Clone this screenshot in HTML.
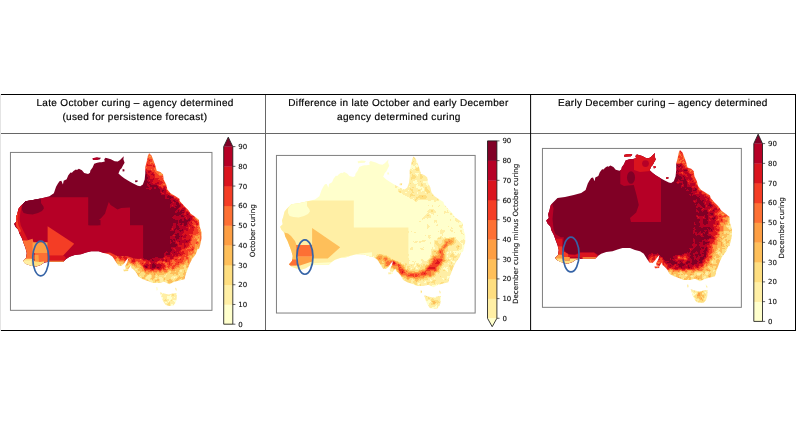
<!DOCTYPE html>
<html lang="en">
<head>
<meta charset="utf-8">
<title>Curing maps</title>
<style>
html,body{margin:0;padding:0;background:#fff;}
body{width:800px;height:425px;overflow:hidden;}
svg{display:block;}
.hd{font-family:"Liberation Sans",sans-serif;font-size:10px;fill:#000;stroke:#000;stroke-width:0.18px;text-rendering:geometricPrecision;}
.tk{font-family:"DejaVu Sans","Liberation Sans",sans-serif;font-size:7px;fill:#111;stroke:#111;stroke-width:0.12px;text-rendering:geometricPrecision;}
.al{font-family:"DejaVu Sans","Liberation Sans",sans-serif;font-size:7.1px;fill:#111;stroke:#111;stroke-width:0.12px;text-rendering:geometricPrecision;}
</style>
</head>
<body>
<svg width="800" height="425" viewBox="0 0 800 425">
<defs>
<path id="aus" d="M548.8,218.0 L548.1,214.2 L549.4,210.5 L550.6,205.5 L552.5,203.0 L557.5,198.0 L565.0,196.9 L573.8,195.0 L581.2,193.1 L585.6,190.0 L587.8,183.6 L589.5,180.5 L591.2,178.0 L593.0,177.6 L594.6,181.3 L595.3,177.6 L598.3,176.0 L599.8,172.3 L602.1,169.3 L603.5,169.5 L605.1,167.8 L607.4,166.3 L608.5,166.8 L610.4,165.5 L613.4,167.0 L615.7,169.7 L619.5,170.7 L621.4,169.6 L621.8,167.3 L624.0,164.3 L625.6,160.6 L628.6,159.4 L631.0,158.9 L633.0,158.9 L636.1,158.3 L635.5,156.0 L636.9,154.5 L642.1,156.0 L645.9,157.9 L648.9,158.3 L651.2,156.8 L653.4,154.5 L654.9,153.0 L654.5,156.0 L655.7,159.4 L654.2,162.1 L652.7,165.1 L651.2,166.6 L649.6,170.3 L652.7,173.0 L655.7,175.2 L660.2,177.9 L663.8,180.0 L668.8,182.5 L671.2,183.1 L673.8,181.2 L675.6,176.2 L676.2,170.0 L676.2,163.8 L677.5,158.8 L678.8,152.5 L680.0,150.0 L682.5,152.5 L684.4,157.5 L686.2,162.5 L687.5,167.5 L691.2,168.8 L693.8,171.2 L694.4,176.2 L696.9,181.2 L698.1,186.2 L701.2,190.0 L706.2,193.1 L710.0,195.6 L710.6,198.0 L715.0,203.0 L718.8,206.8 L721.2,210.5 L726.2,214.2 L729.4,216.8 L730.0,223.0 L731.9,229.2 L731.9,235.5 L730.6,241.8 L729.4,246.0 L728.1,246.2 L726.2,251.2 L722.5,256.2 L720.0,261.2 L718.1,266.2 L716.2,271.2 L715.0,276.2 L710.0,277.5 L705.0,278.8 L700.0,281.2 L695.0,278.8 L690.0,280.0 L683.8,280.0 L678.8,278.1 L673.8,276.2 L669.4,273.8 L667.5,270.0 L665.0,266.9 L662.5,265.0 L661.9,262.5 L659.5,266.0 L656.5,265.5 L656.2,263.1 L658.5,259.0 L659.4,255.0 L657.5,256.9 L655.0,260.6 L652.5,263.0 L649.4,262.5 L646.9,258.8 L643.8,253.8 L640.0,251.2 L635.0,250.0 L630.0,248.1 L622.5,248.1 L617.5,249.4 L612.5,251.2 L606.2,251.9 L601.2,253.8 L597.5,256.2 L595.0,258.8 L587.5,258.8 L581.2,258.8 L576.2,259.4 L572.5,261.9 L567.5,263.8 L562.5,262.5 L557.5,260.6 L555.0,258.1 L558.1,255.0 L558.8,250.0 L557.5,245.0 L555.6,240.0 L553.8,235.0 L551.2,230.0 L550.6,226.8 L547.5,223.6 L546.2,220.5Z M690.7,289.3 L695.0,290.5 L699.4,291.6 L703.5,290.5 L707.6,290.0 L707.3,296.1 L706.0,300.0 L703.9,302.5 L700.0,303.0 L696.4,302.1 L694.0,298.5 L692.6,295.3Z M687.0,284.6 L688.4,284.8 L688.6,287.0 L687.3,287.4Z M705.6,284.8 L706.8,285.0 L707.6,287.6 L706.4,287.6Z M624.0,154.9 L628.0,154.1 L632.3,154.5 L631.0,156.2 L627.0,156.6 L624.4,156.8Z M653.6,166.0 L655.4,166.0 L655.6,168.0 L653.8,168.2Z M666.0,177.3 L668.6,177.0 L668.4,178.8 L666.2,179.0Z M654.4,266.6 L659.4,266.2 L659.2,268.0 L655.0,268.2Z"/>
<clipPath id="clip1"><use href="#aus" transform="matrix(1.00919,0,0,0.99767,-537.127,3.644)"/></clipPath>
<clipPath id="clip2"><use href="#aus" transform="matrix(0.99685,0,0,0.99607,-264.368,7.065)"/></clipPath>
<clipPath id="clip3"><use href="#aus"/></clipPath>
<filter id="f1" filterUnits="userSpaceOnUse" x="8" y="150" width="206" height="163" color-interpolation-filters="sRGB">
<feGaussianBlur in="SourceGraphic" stdDeviation="1.6" result="g"/>
<feTurbulence type="fractalNoise" baseFrequency="0.25" numOctaves="3" seed="7" result="t"/>
<feColorMatrix in="t" type="matrix" values="1 0 0 0 0 1 0 0 0 0 1 0 0 0 0 0 0 0 0 1" result="n"/>
<feComposite in="g" in2="n" operator="arithmetic" k1="0" k2="1" k3="0.36" k4="-0.18" result="f"/>
<feComponentTransfer in="f" result="c">
<feFuncR type="discrete" tableValues="1.000 1.000 0.996 0.996 0.992 0.992 0.957 0.855 0.714 0.502 0.502 0.502 0.502"/>
<feFuncG type="discrete" tableValues="1.000 0.937 0.871 0.749 0.620 0.439 0.239 0.078 0.000 0.000 0.000 0.000 0.000"/>
<feFuncB type="discrete" tableValues="0.800 0.647 0.502 0.353 0.263 0.204 0.145 0.118 0.149 0.149 0.149 0.149 0.149"/>
</feComponentTransfer>
<feGaussianBlur in="c" stdDeviation="0.55"/>
</filter><filter id="f2" filterUnits="userSpaceOnUse" x="274" y="153" width="204" height="163" color-interpolation-filters="sRGB">
<feGaussianBlur in="SourceGraphic" stdDeviation="1.0" result="g"/>
<feTurbulence type="fractalNoise" baseFrequency="0.2" numOctaves="3" seed="11" result="t"/>
<feColorMatrix in="t" type="matrix" values="1 0 0 0 0 1 0 0 0 0 1 0 0 0 0 0 0 0 0 1" result="n"/>
<feComposite in="g" in2="n" operator="arithmetic" k1="0" k2="1" k3="0.32" k4="-0.16" result="f"/>
<feComponentTransfer in="f" result="c">
<feFuncR type="discrete" tableValues="1.000 1.000 1.000 1.000 0.996 0.996 0.992 0.992 0.957 0.855 0.714 0.502 0.502"/>
<feFuncG type="discrete" tableValues="1.000 1.000 1.000 0.937 0.871 0.749 0.620 0.439 0.239 0.078 0.000 0.000 0.000"/>
<feFuncB type="discrete" tableValues="0.800 0.800 0.800 0.647 0.502 0.353 0.263 0.204 0.145 0.118 0.149 0.149 0.149"/>
</feComponentTransfer>
<feGaussianBlur in="c" stdDeviation="0.7"/>
</filter><filter id="f3" filterUnits="userSpaceOnUse" x="540" y="146" width="204" height="164" color-interpolation-filters="sRGB">
<feGaussianBlur in="SourceGraphic" stdDeviation="1.6" result="g"/>
<feTurbulence type="fractalNoise" baseFrequency="0.25" numOctaves="3" seed="5" result="t"/>
<feColorMatrix in="t" type="matrix" values="1 0 0 0 0 1 0 0 0 0 1 0 0 0 0 0 0 0 0 1" result="n"/>
<feComposite in="g" in2="n" operator="arithmetic" k1="0" k2="1" k3="0.36" k4="-0.18" result="f"/>
<feComponentTransfer in="f" result="c">
<feFuncR type="discrete" tableValues="1.000 1.000 0.996 0.996 0.992 0.992 0.957 0.855 0.714 0.502 0.502 0.502 0.502"/>
<feFuncG type="discrete" tableValues="1.000 0.937 0.871 0.749 0.620 0.439 0.239 0.078 0.000 0.000 0.000 0.000 0.000"/>
<feFuncB type="discrete" tableValues="0.800 0.647 0.502 0.353 0.263 0.204 0.145 0.118 0.149 0.149 0.149 0.149 0.149"/>
</feComponentTransfer>
<feGaussianBlur in="c" stdDeviation="0.55"/>
</filter>
</defs>
<rect x="0" y="0" width="800" height="425" fill="#fff"/>
<!-- table grid -->
<rect x="0" y="94" width="1" height="237" fill="#e4e4e4"/>
<rect x="1" y="94" width="795" height="1" fill="#000"/>
<rect x="1" y="330" width="795" height="1" fill="#000"/>
<rect x="1" y="133" width="795" height="0.9" fill="#555"/>
<rect x="265" y="95" width="1" height="235" fill="#666"/>
<rect x="530.1" y="94" width="1" height="236" fill="#000"/>
<rect x="795" y="94" width="1" height="236.9" fill="#000"/>
<!-- headers -->
<text class="hd" x="36.4" y="106" textLength="197" lengthAdjust="spacing">Late October curing – agency determined</text>
<text class="hd" x="62.4" y="119.8" textLength="144.6" lengthAdjust="spacing">(used for persistence forecast)</text>
<text class="hd" x="288.3" y="106" textLength="220" lengthAdjust="spacing">Difference in late October and early December</text>
<text class="hd" x="337" y="119.8" textLength="123.4" lengthAdjust="spacing">agency determined curing</text>
<text class="hd" x="558" y="106" textLength="209.4" lengthAdjust="spacing">Early December curing – agency determined</text>
<!-- map 1 -->
<rect x="10.45" y="152.43" width="201.5" height="157.9" fill="none" stroke="#7f7f7f" stroke-width="1"/>
<g clip-path="url(#clip1)"><g filter="url(#f1)"><rect x="8" y="150" width="206" height="163" fill="#ffffff"/><path d="M144.0,168.0 L145.0,180.0 L143.0,186.0 L146.0,190.0 L155.9,192.0 L166.2,200.7 L171.4,213.7 L168.8,231.8 L168.8,244.7 L161.0,255.0 L150.0,257.5 L143.3,258.5 L143.3,290.0 L146.0,314.0 L216.0,314.0 L216.0,148.0 L143.0,148.0Z" fill="#b0b0b0" /><path d="M145.0,165.0 L148.0,178.0 L153.0,184.0 L160.0,188.0 L167.0,192.0 L176.0,199.0 L181.0,206.0 L187.5,213.0 L191.0,218.5 L186.0,224.0 L181.8,231.8 L179.2,244.7 L171.4,255.0 L161.0,259.5 L146.0,260.0 L143.3,260.0 L143.3,290.0 L146.0,314.0 L216.0,314.0 L216.0,148.0 L143.0,148.0Z" fill="#9b9b9b" /><path d="M146.0,158.0 L151.0,170.0 L158.0,179.0 L167.0,186.0 L171.0,191.0 L178.5,197.5 L183.0,204.5 L189.5,211.5 L193.5,216.5 L195.5,221.0 L192.1,234.4 L187.0,247.3 L179.2,257.7 L172.0,261.5 L146.0,262.0 L143.3,262.0 L143.3,290.0 L146.0,314.0 L216.0,314.0 L216.0,148.0 L143.0,148.0Z" fill="#767676" /><path d="M199.5,224.0 L198.0,234.0 L194.7,247.3 L189.5,257.7 L181.8,265.4 L172.0,269.0 L160.0,271.0 L146.0,270.6 L143.3,268.0 L143.3,290.0 L146.0,314.0 L216.0,314.0 L216.0,224.0Z" fill="#5a5a5a" /><path d="M196.5,248.0 L192.0,257.5 L184.0,266.0 L174.0,271.0 L160.0,273.0 L146.0,272.5 L143.3,270.0 L143.3,290.0 L216.0,290.0 L216.0,248.0Z" fill="#454545" /><path d="M150.0,274.0 L166.2,273.5 L178.0,269.5 L184.0,266.5 L186.5,268.0 L185.0,274.0 L181.0,279.0 L170.0,290.0 L140.0,290.0 L143.3,274.0Z" fill="#313131" /><circle cx="194.6" cy="245.0" r="0.7" fill="#5e5e5e"/><circle cx="196.8" cy="240.3" r="1.0" fill="#757575"/><circle cx="189.1" cy="257.0" r="0.7" fill="#717171"/><circle cx="195.7" cy="235.6" r="0.9" fill="#6e6e6e"/><circle cx="198.3" cy="231.7" r="1.0" fill="#606060"/><circle cx="193.1" cy="239.4" r="1.0" fill="#717171"/><circle cx="191.2" cy="246.0" r="0.8" fill="#7e7e7e"/><circle cx="192.4" cy="252.8" r="0.9" fill="#6c6c6c"/><circle cx="187.0" cy="259.0" r="1.0" fill="#888888"/><circle cx="188.7" cy="249.0" r="1.1" fill="#808080"/><circle cx="188.3" cy="253.8" r="0.7" fill="#7d7d7d"/><circle cx="195.7" cy="228.9" r="1.0" fill="#818181"/><circle cx="187.7" cy="256.9" r="0.6" fill="#6f6f6f"/><circle cx="192.4" cy="242.9" r="1.1" fill="#747474"/><circle cx="191.3" cy="242.9" r="0.6" fill="#616161"/><circle cx="194.5" cy="235.9" r="1.0" fill="#686868"/><circle cx="192.8" cy="249.9" r="1.0" fill="#636363"/><circle cx="191.1" cy="246.1" r="1.1" fill="#696969"/><circle cx="188.2" cy="247.5" r="0.9" fill="#898989"/><circle cx="197.7" cy="237.0" r="0.9" fill="#858585"/><circle cx="195.3" cy="239.4" r="1.0" fill="#656565"/><circle cx="197.3" cy="228.8" r="0.9" fill="#8f8f8f"/><circle cx="188.3" cy="259.4" r="0.7" fill="#7f7f7f"/><circle cx="195.1" cy="230.8" r="0.7" fill="#8a8a8a"/><circle cx="187.5" cy="252.2" r="1.0" fill="#979797"/><circle cx="196.6" cy="236.4" r="0.8" fill="#696969"/><circle cx="189.5" cy="254.2" r="0.9" fill="#919191"/><circle cx="195.7" cy="243.2" r="0.9" fill="#686868"/><circle cx="186.6" cy="252.1" r="1.0" fill="#838383"/><circle cx="187.1" cy="261.6" r="1.0" fill="#595959"/><circle cx="184.7" cy="260.5" r="0.8" fill="#8b8b8b"/><circle cx="187.6" cy="250.8" r="1.0" fill="#6d6d6d"/><circle cx="189.9" cy="249.4" r="1.0" fill="#6b6b6b"/><circle cx="193.8" cy="232.0" r="0.7" fill="#808080"/><circle cx="199.1" cy="232.0" r="0.9" fill="#888888"/><circle cx="196.6" cy="240.4" r="0.9" fill="#666666"/><path d="M100.0,246.0 L143.3,246.0 L143.3,292.0 L100.0,292.0Z" fill="#7e7e7e" /><path d="M108.0,257.0 L114.0,259.5 L120.0,261.0 L128.0,262.0 L133.0,263.0 L143.3,263.5 L143.3,292.0 L108.0,292.0Z" fill="#565656" /><path d="M116.0,261.5 L126.0,263.5 L134.0,266.5 L143.3,268.5 L143.3,292.0 L112.0,292.0Z" fill="#373737" /><path d="M154.2,285.0 L181.4,285.0 L181.4,308.9 L154.2,308.9Z" fill="#1b1b1b" /><path d="M143.0,148.0 L160.0,148.0 L160.0,170.0 L143.0,170.0Z" fill="#7a7a7a" /><path d="M153.2,160.3 L156.2,170.3 L162.2,174.2 L165.3,184.2 L168.3,192.2 L179.4,199.2 L188.5,210.2 L198.6,220.1" fill="none" stroke="#6c6c6c" stroke-width="2.6" stroke-linejoin="round" stroke-linecap="round" /><ellipse cx="153.5" cy="266.6" rx="10.5" ry="3.6" fill="#b1b1b1" /></g><path d="M8.0,197.2 L88.2,197.2 L88.2,225.3 L98.5,225.3 L97.5,221.2 L101.2,218.1 L105.0,213.8 L106.9,207.5 L108.8,201.9 L110.6,205.0 L113.8,206.9 L117.5,209.4 L121.2,208.1 L130.0,207.5 L130.0,225.3 L143.1,225.3 L143.1,258.8 L135.0,258.8 L127.5,256.2 L117.5,256.2 L110.0,252.5 L104.0,253.0 L100.0,256.0 L96.0,262.0 L8.0,290.0Z" fill="#b60026" /><path d="M91.6,156.3 L98.2,156.3 L98.2,160.9 L91.6,160.9Z" fill="#b60026" /><path d="M22.0,206.5 L23.0,203.5 L25.0,200.5 L29.0,198.5 L33.0,197.5 L38.0,197.0 L41.0,198.5 L41.0,203.0 L43.5,206.5 L43.9,208.5 L42.0,211.0 L38.0,213.0 L32.6,214.4 L27.5,214.0 L23.6,212.9 L22.0,210.0Z" fill="#800026" /><path d="M8.0,190.0 L42.0,190.0 L42.0,197.3 L39.5,197.3 L37.0,199.5 L31.0,201.0 L25.0,203.5 L8.0,203.5Z" fill="#800026" /><path d="M89.2,220.0 L100.5,220.0 L100.5,225.3 L89.2,225.3Z" fill="#800026" /><path d="M19.5,205.0 L18.2,212.0 L17.4,219.0 L18.6,226.0 L21.5,232.0 L24.5,238.0 L27.0,243.0" fill="none" stroke="#da141e" stroke-width="4.4" stroke-linejoin="round" stroke-linecap="round" /><path d="M17.2,213.0 L16.2,219.0 L17.4,226.0 L20.0,231.0" fill="none" stroke="#f43d25" stroke-width="2.2" stroke-linejoin="round" stroke-linecap="round" /><path d="M47.6,226.2 L74.2,243.8 L63.0,255.7 L47.6,255.7Z" fill="#f43d25" /><path d="M45.5,255.7 L64.0,255.7 L66.0,258.0 L64.0,260.8 L45.5,260.8Z" fill="#da141e" /><path d="M20.0,240.3 L27.0,240.6 L32.6,238.8 L33.4,242.2 L34.6,259.2 L20.0,259.2Z" fill="#fd7034" /><path d="M32.6,242.2 L47.6,242.2 L47.6,253.1 L32.6,253.1Z" fill="#fd9e43" /><path d="M34.6,253.1 L47.6,253.1 L47.6,261.9 L38.0,262.5 L35.0,259.0Z" fill="#fd7034" /><path d="M34.6,255.0 L38.5,255.0 L39.0,262.0 L34.6,262.0Z" fill="#fd9e43" /><path d="M20.0,258.8 L32.6,258.8 L35.0,261.5 L40.0,262.0 L44.0,261.5 L44.0,270.0 L20.0,270.0Z" fill="#fede80" /><path d="M22.0,260.5 L31.0,260.5 L33.0,270.0 L22.0,270.0Z" fill="#ffefa5" /><path d="M48.0,260.8 L66.0,260.8 L66.0,263.0 L48.0,263.0Z" fill="#fd9e43" /></g>
<rect x="223.7" y="304.47" width="9.10" height="20.03" fill="#ffffcc"/>
<rect x="223.7" y="284.73" width="9.10" height="20.03" fill="#ffefa5"/>
<rect x="223.7" y="265.00" width="9.10" height="20.03" fill="#fede80"/>
<rect x="223.7" y="245.27" width="9.10" height="20.03" fill="#febf5a"/>
<rect x="223.7" y="225.53" width="9.10" height="20.03" fill="#fd9e43"/>
<rect x="223.7" y="205.80" width="9.10" height="20.03" fill="#fd7034"/>
<rect x="223.7" y="186.07" width="9.10" height="20.03" fill="#f43d25"/>
<rect x="223.7" y="166.33" width="9.10" height="20.03" fill="#da141e"/>
<rect x="223.7" y="146.60" width="9.10" height="20.03" fill="#b60026"/>
<path d="M223.7,146.7 L228.25,137.2 L232.8,146.7Z" fill="#800026"/>
<path d="M223.7,324.2 L223.7,146.6 L228.25,137.2 L232.8,146.6 L232.8,324.2Z" fill="none" stroke="#1a1a1a" stroke-width="0.85"/>
<line x1="232.8" y1="324.20" x2="235.4" y2="324.20" stroke="#222" stroke-width="0.7"/>
<text x="238.3" y="326.75" class="tk">0</text>
<line x1="232.8" y1="304.47" x2="235.4" y2="304.47" stroke="#222" stroke-width="0.7"/>
<text x="238.3" y="307.02" class="tk">10</text>
<line x1="232.8" y1="284.73" x2="235.4" y2="284.73" stroke="#222" stroke-width="0.7"/>
<text x="238.3" y="287.28" class="tk">20</text>
<line x1="232.8" y1="265.00" x2="235.4" y2="265.00" stroke="#222" stroke-width="0.7"/>
<text x="238.3" y="267.55" class="tk">30</text>
<line x1="232.8" y1="245.27" x2="235.4" y2="245.27" stroke="#222" stroke-width="0.7"/>
<text x="238.3" y="247.82" class="tk">40</text>
<line x1="232.8" y1="225.53" x2="235.4" y2="225.53" stroke="#222" stroke-width="0.7"/>
<text x="238.3" y="228.08" class="tk">50</text>
<line x1="232.8" y1="205.80" x2="235.4" y2="205.80" stroke="#222" stroke-width="0.7"/>
<text x="238.3" y="208.35" class="tk">60</text>
<line x1="232.8" y1="186.07" x2="235.4" y2="186.07" stroke="#222" stroke-width="0.7"/>
<text x="238.3" y="188.62" class="tk">70</text>
<line x1="232.8" y1="166.33" x2="235.4" y2="166.33" stroke="#222" stroke-width="0.7"/>
<text x="238.3" y="168.88" class="tk">80</text>
<line x1="232.8" y1="146.60" x2="235.4" y2="146.60" stroke="#222" stroke-width="0.7"/>
<text x="238.3" y="149.15" class="tk">90</text>
<text class="al" transform="translate(254.5,230.7) rotate(-90)" text-anchor="middle">October curing</text>
<!-- map 2 -->
<rect x="276.45" y="155.43" width="198.7" height="157.6" fill="none" stroke="#7f7f7f" stroke-width="1"/>
<g clip-path="url(#clip2)"><g filter="url(#f2)"><rect x="274" y="153" width="204" height="163" fill="#000000"/><path d="M406.9,228.0 L406.9,305.9 L479.3,305.9 L479.3,196.3 L433.4,196.3 L423.5,206.3 L413.5,228.0Z" fill="#2d2d2d" /><ellipse cx="429.0" cy="212.0" rx="5" ry="3.2" fill="#454545" /><path d="M452.0,214.0 L461.0,224.0 L465.0,236.0 L464.0,250.0 L458.0,262.0" fill="none" stroke="#373737" stroke-width="7" stroke-linejoin="round" stroke-linecap="round" /><path d="M400.0,268.0 L410.0,277.0 L432.0,277.0 L442.0,268.0 L447.0,250.0 L460.0,240.0 L460.0,290.0 L400.0,290.0Z" fill="#454545" /><path d="M360.0,250.0 L408.4,250.0 L408.4,285.0 L360.0,285.0Z" fill="#454545" /><path d="M394.0,186.0 L397.0,192.0 L405.0,197.0 L412.0,201.0 L420.0,203.5 L428.0,203.0 L436.0,201.0 L445.0,196.0 L445.0,150.0 L394.0,150.0Z" fill="#454545" /><path d="M394.7,260.8 L400.8,267.9 L405.8,271.4 L412.9,271.9 L420.0,271.4 L427.1,269.9 L433.1,265.9 L437.2,260.8 L439.2,254.7 L440.2,248.7 L442.2,243.6" fill="none" stroke="#4c4c4c" stroke-width="15" stroke-linejoin="round" stroke-linecap="round" /><path d="M379.0,259.0 L387.0,262.0 L396.2,264.3 L402.3,271.4 L407.3,274.9 L414.4,275.4 L421.5,274.9 L428.6,273.4 L434.6,269.4 L438.7,264.3 L440.7,258.2 L441.7,252.2 L443.7,247.1 L447.8,243.1 L451.3,241.1" fill="none" stroke="#727272" stroke-width="8.5" stroke-linejoin="round" stroke-linecap="round" /><path d="M387.0,262.0 L396.2,264.3 L402.3,271.4 L407.3,274.9 L414.4,275.4 L421.5,274.9 L428.6,273.4 L434.6,269.4 L438.7,264.3 L440.7,258.2" fill="none" stroke="#999999" stroke-width="4.2" stroke-linejoin="round" stroke-linecap="round" /><path d="M440.7,258.2 L441.7,252.2 L443.7,247.1 L447.8,243.1 L451.3,241.1" fill="none" stroke="#818181" stroke-width="4" stroke-linejoin="round" stroke-linecap="round" /><path d="M428.6,273.4 L434.6,269.4 L438.7,264.3 L440.7,258.2" fill="none" stroke="#a9a9a9" stroke-width="6" stroke-linejoin="round" stroke-linecap="round" /><path d="M402.3,271.4 L407.3,274.9 L414.4,275.4 L421.5,274.9 L428.6,273.4" fill="none" stroke="#a9a9a9" stroke-width="2.6" stroke-linejoin="round" stroke-linecap="round" /><circle cx="404.9" cy="267.7" r="1.0" fill="#4f4f4f"/><circle cx="382.6" cy="256.6" r="1.5" fill="#5e5e5e"/><circle cx="385.1" cy="261.1" r="1.1" fill="#cccccc"/><circle cx="426.6" cy="275.7" r="0.9" fill="#949494"/><circle cx="423.8" cy="276.2" r="0.7" fill="#9c9c9c"/><circle cx="413.1" cy="271.4" r="1.2" fill="#5d5d5d"/><circle cx="382.9" cy="263.6" r="1.4" fill="#6e6e6e"/><circle cx="440.9" cy="263.1" r="1.2" fill="#959595"/><circle cx="417.5" cy="273.3" r="1.4" fill="#a6a6a6"/><circle cx="433.5" cy="269.2" r="1.0" fill="#cfcfcf"/><circle cx="435.1" cy="263.1" r="1.4" fill="#646464"/><circle cx="392.3" cy="262.3" r="0.7" fill="#b5b5b5"/><circle cx="404.9" cy="271.9" r="1.2" fill="#818181"/><circle cx="436.7" cy="266.6" r="0.8" fill="#989898"/><circle cx="425.9" cy="267.9" r="1.1" fill="#373737"/><circle cx="381.7" cy="259.5" r="1.0" fill="#c6c6c6"/><circle cx="410.1" cy="279.9" r="1.0" fill="#707070"/><circle cx="396.1" cy="263.4" r="0.9" fill="#b7b7b7"/><circle cx="395.7" cy="271.9" r="1.0" fill="#4e4e4e"/><circle cx="405.2" cy="275.4" r="0.7" fill="#bebebe"/><circle cx="429.9" cy="268.9" r="1.3" fill="#959595"/><circle cx="399.3" cy="268.7" r="0.9" fill="#b7b7b7"/><circle cx="431.9" cy="278.9" r="0.9" fill="#2f2f2f"/><circle cx="425.8" cy="267.8" r="1.2" fill="#303030"/><circle cx="389.9" cy="257.4" r="1.5" fill="#4e4e4e"/><circle cx="432.4" cy="275.1" r="0.9" fill="#696969"/><circle cx="386.0" cy="265.6" r="0.8" fill="#6c6c6c"/><circle cx="420.7" cy="272.6" r="0.8" fill="#a3a3a3"/><circle cx="428.0" cy="271.1" r="1.0" fill="#919191"/><circle cx="384.3" cy="261.6" r="0.8" fill="#a1a1a1"/><circle cx="387.3" cy="261.8" r="0.7" fill="#ababab"/><circle cx="409.9" cy="275.7" r="0.7" fill="#aaaaaa"/><circle cx="435.0" cy="266.9" r="1.1" fill="#999999"/><circle cx="406.0" cy="273.5" r="1.3" fill="#9e9e9e"/><circle cx="408.8" cy="279.1" r="1.3" fill="#5e5e5e"/><circle cx="437.2" cy="267.8" r="0.7" fill="#a4a4a4"/><circle cx="418.9" cy="271.8" r="1.0" fill="#8a8a8a"/><circle cx="393.6" cy="262.7" r="1.3" fill="#cbcbcb"/><circle cx="404.3" cy="276.0" r="0.9" fill="#626262"/><circle cx="437.3" cy="261.8" r="0.9" fill="#7d7d7d"/><circle cx="437.5" cy="259.1" r="0.9" fill="#646464"/><circle cx="395.1" cy="263.6" r="1.1" fill="#989898"/><circle cx="394.5" cy="266.9" r="1.4" fill="#9b9b9b"/><circle cx="415.6" cy="272.0" r="1.4" fill="#8a8a8a"/><circle cx="407.9" cy="273.0" r="1.2" fill="#808080"/><circle cx="414.7" cy="270.7" r="0.8" fill="#616161"/><circle cx="412.2" cy="276.3" r="1.4" fill="#c5c5c5"/><circle cx="395.2" cy="265.9" r="1.3" fill="#b0b0b0"/><circle cx="404.6" cy="270.0" r="0.7" fill="#818181"/><circle cx="389.8" cy="262.4" r="1.1" fill="#b0b0b0"/><circle cx="390.6" cy="263.3" r="1.3" fill="#a5a5a5"/><circle cx="408.2" cy="276.6" r="0.7" fill="#b9b9b9"/><circle cx="401.5" cy="267.0" r="0.8" fill="#b5b5b5"/><circle cx="444.0" cy="263.0" r="1.1" fill="#464646"/><circle cx="398.2" cy="266.1" r="1.0" fill="#9d9d9d"/><circle cx="394.6" cy="268.0" r="1.3" fill="#858585"/><circle cx="432.9" cy="273.4" r="1.4" fill="#a3a3a3"/><circle cx="416.9" cy="274.0" r="0.9" fill="#aeaeae"/><circle cx="381.7" cy="266.4" r="1.0" fill="#5d5d5d"/><circle cx="427.7" cy="272.7" r="1.0" fill="#b1b1b1"/><circle cx="408.3" cy="275.4" r="0.9" fill="#aaaaaa"/><circle cx="421.7" cy="273.6" r="1.4" fill="#b7b7b7"/><circle cx="392.8" cy="265.4" r="1.2" fill="#7b7b7b"/><circle cx="401.4" cy="265.9" r="0.9" fill="#8a8a8a"/><circle cx="395.5" cy="265.8" r="1.1" fill="#c0c0c0"/><circle cx="378.5" cy="261.7" r="1.2" fill="#9a9a9a"/><circle cx="416.9" cy="272.1" r="1.3" fill="#787878"/><circle cx="386.3" cy="261.1" r="0.9" fill="#a4a4a4"/><circle cx="438.4" cy="263.4" r="0.9" fill="#c6c6c6"/><circle cx="425.9" cy="276.4" r="1.1" fill="#757575"/><circle cx="414.7" cy="272.9" r="1.0" fill="#939393"/><circle cx="414.9" cy="276.9" r="1.3" fill="#828282"/><circle cx="409.7" cy="275.8" r="0.7" fill="#949494"/><circle cx="436.9" cy="261.6" r="0.9" fill="#aeaeae"/><circle cx="437.5" cy="263.0" r="1.0" fill="#797979"/><circle cx="438.9" cy="266.3" r="1.4" fill="#969696"/><circle cx="393.4" cy="265.3" r="1.0" fill="#9a9a9a"/><circle cx="432.5" cy="265.9" r="1.5" fill="#727272"/><circle cx="425.2" cy="274.5" r="0.8" fill="#cbcbcb"/><circle cx="429.2" cy="270.7" r="0.7" fill="#8c8c8c"/><circle cx="421.3" cy="273.6" r="1.1" fill="#838383"/><circle cx="432.4" cy="273.3" r="0.8" fill="#797979"/><circle cx="435.1" cy="268.3" r="1.3" fill="#a9a9a9"/><circle cx="392.0" cy="258.1" r="1.4" fill="#363636"/><circle cx="399.3" cy="273.2" r="0.7" fill="#909090"/><circle cx="425.1" cy="279.3" r="1.3" fill="#636363"/><circle cx="434.3" cy="269.8" r="0.9" fill="#bababa"/><circle cx="383.2" cy="261.9" r="1.2" fill="#848484"/><circle cx="398.0" cy="268.7" r="0.9" fill="#929292"/><circle cx="381.3" cy="262.8" r="1.1" fill="#777777"/><circle cx="428.7" cy="267.5" r="0.9" fill="#535353"/><circle cx="390.7" cy="263.9" r="0.7" fill="#a4a4a4"/><circle cx="398.0" cy="264.0" r="0.9" fill="#b0b0b0"/><circle cx="389.9" cy="265.1" r="1.3" fill="#8e8e8e"/><circle cx="408.7" cy="273.7" r="0.8" fill="#bababa"/><circle cx="434.4" cy="261.7" r="1.2" fill="#666666"/><circle cx="412.2" cy="274.5" r="0.7" fill="#9d9d9d"/><circle cx="427.8" cy="272.7" r="1.4" fill="#9c9c9c"/><circle cx="431.8" cy="271.2" r="1.3" fill="#b4b4b4"/><circle cx="402.7" cy="276.3" r="1.0" fill="#6d6d6d"/><circle cx="400.5" cy="268.2" r="0.7" fill="#b7b7b7"/><circle cx="399.7" cy="264.3" r="1.5" fill="#a0a0a0"/><circle cx="381.7" cy="261.8" r="0.7" fill="#b9b9b9"/><circle cx="401.3" cy="274.8" r="0.8" fill="#696969"/><circle cx="408.5" cy="276.7" r="1.1" fill="#939393"/><circle cx="428.8" cy="276.2" r="0.8" fill="#8b8b8b"/><circle cx="393.5" cy="263.2" r="1.1" fill="#9a9a9a"/><circle cx="387.2" cy="263.7" r="1.5" fill="#959595"/><circle cx="396.8" cy="267.0" r="1.2" fill="#878787"/><circle cx="434.8" cy="264.5" r="1.0" fill="#a7a7a7"/><circle cx="423.9" cy="272.3" r="1.2" fill="#a2a2a2"/><circle cx="415.7" cy="276.8" r="1.2" fill="#979797"/><circle cx="399.9" cy="267.6" r="1.1" fill="#c8c8c8"/><circle cx="401.0" cy="267.1" r="1.1" fill="#7c7c7c"/><circle cx="425.4" cy="277.9" r="1.0" fill="#545454"/><circle cx="418.2" cy="276.0" r="1.2" fill="#8d8d8d"/><circle cx="404.0" cy="267.5" r="1.1" fill="#858585"/><circle cx="414.2" cy="273.6" r="1.4" fill="#979797"/><circle cx="435.6" cy="262.5" r="1.5" fill="#747474"/><circle cx="395.5" cy="265.8" r="1.4" fill="#7a7a7a"/><circle cx="433.1" cy="267.5" r="1.4" fill="#a8a8a8"/><circle cx="407.5" cy="270.0" r="1.0" fill="#636363"/><circle cx="408.7" cy="274.3" r="1.2" fill="#b2b2b2"/><circle cx="390.9" cy="266.9" r="1.0" fill="#636363"/><circle cx="434.4" cy="257.6" r="1.4" fill="#595959"/><circle cx="396.1" cy="263.3" r="1.0" fill="#9b9b9b"/><circle cx="436.3" cy="264.5" r="1.5" fill="#7a7a7a"/><circle cx="398.5" cy="269.5" r="0.9" fill="#aaaaaa"/><circle cx="394.7" cy="259.6" r="1.1" fill="#505050"/><circle cx="381.3" cy="252.9" r="1.3" fill="#3f3f3f"/><circle cx="417.6" cy="273.3" r="0.9" fill="#898989"/><circle cx="435.6" cy="268.2" r="1.2" fill="#cacaca"/><circle cx="379.7" cy="263.1" r="0.8" fill="#999999"/><circle cx="420.2" cy="277.7" r="1.4" fill="#9e9e9e"/><circle cx="433.3" cy="268.4" r="0.8" fill="#9d9d9d"/><circle cx="440.5" cy="261.8" r="0.8" fill="#a9a9a9"/><circle cx="379.4" cy="259.6" r="1.0" fill="#d3d3d3"/><circle cx="426.7" cy="277.8" r="1.4" fill="#595959"/><circle cx="426.7" cy="271.6" r="1.0" fill="#828282"/><circle cx="402.1" cy="275.1" r="1.2" fill="#979797"/><circle cx="383.8" cy="259.9" r="1.3" fill="#999999"/><circle cx="388.9" cy="259.4" r="1.3" fill="#8b8b8b"/><circle cx="439.9" cy="258.4" r="1.5" fill="#b9b9b9"/><circle cx="434.0" cy="267.7" r="1.4" fill="#b3b3b3"/><circle cx="415.4" cy="272.4" r="1.2" fill="#636363"/><circle cx="416.4" cy="271.1" r="1.2" fill="#5f5f5f"/><circle cx="404.5" cy="276.6" r="1.1" fill="#8c8c8c"/><circle cx="410.1" cy="275.9" r="1.3" fill="#919191"/><circle cx="443.4" cy="259.6" r="1.3" fill="#616161"/><circle cx="439.1" cy="266.3" r="0.9" fill="#8e8e8e"/><circle cx="398.2" cy="274.5" r="1.0" fill="#484848"/><circle cx="402.5" cy="271.7" r="1.4" fill="#acacac"/><circle cx="429.6" cy="271.5" r="1.2" fill="#a1a1a1"/><circle cx="430.7" cy="266.5" r="0.9" fill="#5e5e5e"/><circle cx="404.1" cy="275.2" r="1.1" fill="#777777"/><circle cx="421.1" cy="274.4" r="0.9" fill="#a6a6a6"/><circle cx="402.2" cy="272.1" r="1.0" fill="#909090"/><circle cx="415.0" cy="272.2" r="1.2" fill="#848484"/><circle cx="429.3" cy="267.6" r="0.7" fill="#595959"/><circle cx="437.7" cy="268.1" r="1.4" fill="#7f7f7f"/><circle cx="440.3" cy="260.4" r="1.0" fill="#a7a7a7"/><circle cx="416.0" cy="281.8" r="1.5" fill="#595959"/><circle cx="410.9" cy="277.6" r="1.4" fill="#6a6a6a"/><circle cx="388.3" cy="260.4" r="1.4" fill="#8e8e8e"/><circle cx="386.7" cy="262.1" r="1.0" fill="#b1b1b1"/><circle cx="384.6" cy="260.7" r="0.9" fill="#b1b1b1"/><circle cx="394.0" cy="263.5" r="1.5" fill="#c4c4c4"/><circle cx="385.4" cy="263.4" r="0.7" fill="#b0b0b0"/><circle cx="389.4" cy="262.6" r="1.3" fill="#b3b3b3"/><circle cx="423.8" cy="273.7" r="0.8" fill="#c8c8c8"/><circle cx="424.8" cy="277.3" r="0.7" fill="#656565"/><circle cx="421.4" cy="276.0" r="1.1" fill="#a7a7a7"/><circle cx="431.8" cy="268.5" r="1.5" fill="#989898"/><circle cx="404.6" cy="270.4" r="0.8" fill="#6d6d6d"/><circle cx="410.6" cy="273.1" r="0.9" fill="#868686"/><circle cx="419.7" cy="274.7" r="1.1" fill="#969696"/><circle cx="399.4" cy="272.1" r="0.9" fill="#999999"/><circle cx="385.6" cy="264.4" r="1.1" fill="#777777"/><circle cx="420.8" cy="277.2" r="0.9" fill="#888888"/><circle cx="393.9" cy="258.7" r="1.3" fill="#404040"/><circle cx="438.5" cy="261.6" r="1.4" fill="#bfbfbf"/><circle cx="434.4" cy="272.3" r="1.3" fill="#959595"/><circle cx="382.2" cy="258.7" r="1.4" fill="#a7a7a7"/><circle cx="443.9" cy="259.4" r="1.2" fill="#8d8d8d"/><circle cx="406.6" cy="272.7" r="0.9" fill="#9e9e9e"/><circle cx="389.5" cy="259.4" r="1.2" fill="#787878"/><circle cx="441.5" cy="254.1" r="1.1" fill="#a2a2a2"/><circle cx="445.2" cy="248.6" r="1.0" fill="#535353"/><circle cx="445.1" cy="249.1" r="1.0" fill="#767676"/><circle cx="441.7" cy="257.2" r="1.3" fill="#7a7a7a"/><circle cx="443.2" cy="254.8" r="0.8" fill="#5e5e5e"/><circle cx="449.3" cy="239.7" r="1.3" fill="#9e9e9e"/><circle cx="442.6" cy="252.8" r="0.8" fill="#989898"/><circle cx="450.3" cy="242.7" r="0.9" fill="#a1a1a1"/><circle cx="437.6" cy="256.6" r="1.0" fill="#565656"/><circle cx="443.8" cy="245.5" r="1.3" fill="#6d6d6d"/><circle cx="449.0" cy="247.6" r="1.3" fill="#323232"/><circle cx="443.0" cy="255.4" r="1.0" fill="#929292"/><circle cx="440.3" cy="254.9" r="1.3" fill="#6e6e6e"/><circle cx="442.1" cy="247.9" r="1.2" fill="#595959"/><circle cx="450.9" cy="241.1" r="1.1" fill="#787878"/><circle cx="452.0" cy="243.5" r="1.0" fill="#515151"/><circle cx="442.6" cy="248.7" r="1.1" fill="#8d8d8d"/><circle cx="443.8" cy="254.8" r="1.1" fill="#6a6a6a"/><circle cx="444.8" cy="245.6" r="0.8" fill="#8d8d8d"/><circle cx="441.8" cy="250.5" r="0.9" fill="#717171"/><circle cx="446.2" cy="245.8" r="0.9" fill="#636363"/><circle cx="447.5" cy="243.4" r="1.5" fill="#afafaf"/><circle cx="446.4" cy="244.1" r="0.8" fill="#959595"/><circle cx="447.7" cy="243.4" r="1.0" fill="#a3a3a3"/><circle cx="446.1" cy="246.6" r="1.0" fill="#868686"/><circle cx="449.8" cy="242.0" r="1.2" fill="#818181"/><circle cx="439.7" cy="251.1" r="1.5" fill="#717171"/><circle cx="442.0" cy="244.2" r="0.7" fill="#646464"/><circle cx="448.8" cy="242.7" r="1.2" fill="#6d6d6d"/><circle cx="438.8" cy="256.3" r="1.4" fill="#919191"/><circle cx="439.3" cy="252.4" r="1.1" fill="#686868"/><circle cx="449.0" cy="243.7" r="0.7" fill="#666666"/><circle cx="442.3" cy="250.9" r="1.0" fill="#787878"/><circle cx="439.3" cy="251.2" r="1.5" fill="#818181"/><circle cx="440.5" cy="257.1" r="0.9" fill="#989898"/><circle cx="441.5" cy="257.4" r="0.9" fill="#b2b2b2"/><circle cx="448.9" cy="244.4" r="0.7" fill="#696969"/><circle cx="442.0" cy="254.6" r="0.9" fill="#b2b2b2"/><circle cx="448.6" cy="244.9" r="0.8" fill="#6c6c6c"/><circle cx="441.0" cy="250.2" r="1.2" fill="#9c9c9c"/><circle cx="440.9" cy="253.2" r="0.8" fill="#a4a4a4"/><circle cx="447.9" cy="238.7" r="1.2" fill="#484848"/><circle cx="446.6" cy="250.3" r="1.1" fill="#737373"/><circle cx="445.8" cy="248.4" r="1.2" fill="#5a5a5a"/><circle cx="443.0" cy="242.7" r="0.8" fill="#757575"/><circle cx="446.1" cy="244.4" r="1.4" fill="#9b9b9b"/><circle cx="441.2" cy="257.3" r="1.0" fill="#9c9c9c"/><circle cx="445.5" cy="245.4" r="1.5" fill="#8f8f8f"/><circle cx="440.4" cy="252.9" r="0.7" fill="#979797"/><circle cx="442.6" cy="247.5" r="0.9" fill="#767676"/><circle cx="445.5" cy="246.0" r="0.9" fill="#aaaaaa"/><circle cx="437.8" cy="262.8" r="0.9" fill="#989898"/><circle cx="429.2" cy="267.1" r="0.8" fill="#c2c2c2"/><circle cx="439.6" cy="258.4" r="0.9" fill="#a9a9a9"/><circle cx="430.6" cy="258.5" r="1.3" fill="#696969"/><circle cx="433.8" cy="264.7" r="1.2" fill="#c7c7c7"/><circle cx="437.6" cy="263.0" r="1.5" fill="#bbbbbb"/><circle cx="435.3" cy="258.6" r="1.4" fill="#b1b1b1"/><circle cx="431.3" cy="264.6" r="1.0" fill="#999999"/><circle cx="436.2" cy="260.7" r="1.1" fill="#c0c0c0"/><circle cx="427.9" cy="270.9" r="1.4" fill="#b5b5b5"/><circle cx="432.8" cy="268.0" r="0.8" fill="#a9a9a9"/><circle cx="438.3" cy="260.3" r="0.9" fill="#b4b4b4"/><circle cx="425.3" cy="266.4" r="0.8" fill="#8e8e8e"/><circle cx="431.3" cy="265.3" r="1.4" fill="#939393"/><circle cx="436.2" cy="258.8" r="1.3" fill="#aaaaaa"/><circle cx="439.3" cy="270.6" r="1.4" fill="#4a4a4a"/><circle cx="431.0" cy="271.0" r="1.1" fill="#888888"/><circle cx="437.0" cy="269.3" r="1.2" fill="#646464"/><circle cx="435.2" cy="265.4" r="0.8" fill="#cecece"/><circle cx="431.4" cy="264.0" r="1.2" fill="#969696"/><circle cx="434.5" cy="265.3" r="0.8" fill="#c5c5c5"/><circle cx="431.6" cy="265.7" r="1.3" fill="#bfbfbf"/><circle cx="430.5" cy="267.9" r="1.0" fill="#a6a6a6"/><circle cx="432.9" cy="258.6" r="1.1" fill="#727272"/><circle cx="433.7" cy="261.6" r="1.3" fill="#c2c2c2"/><circle cx="437.3" cy="259.2" r="1.3" fill="#cecece"/><circle cx="435.7" cy="256.7" r="1.0" fill="#8d8d8d"/><circle cx="426.2" cy="268.4" r="0.9" fill="#a1a1a1"/><circle cx="439.0" cy="260.8" r="1.0" fill="#c1c1c1"/><circle cx="438.8" cy="272.0" r="1.4" fill="#6a6a6a"/><circle cx="437.2" cy="261.1" r="1.0" fill="#9f9f9f"/><circle cx="428.5" cy="266.2" r="1.3" fill="#989898"/><circle cx="431.8" cy="272.7" r="1.5" fill="#898989"/><circle cx="434.0" cy="264.7" r="0.9" fill="#cacaca"/><circle cx="429.0" cy="267.3" r="1.4" fill="#b2b2b2"/><circle cx="430.3" cy="262.9" r="0.7" fill="#707070"/><circle cx="431.2" cy="271.6" r="1.4" fill="#b1b1b1"/><circle cx="435.9" cy="261.6" r="1.2" fill="#b8b8b8"/><circle cx="432.7" cy="260.7" r="1.4" fill="#929292"/><circle cx="435.5" cy="258.5" r="1.2" fill="#a2a2a2"/><circle cx="439.3" cy="263.7" r="0.8" fill="#929292"/><circle cx="436.3" cy="259.7" r="1.5" fill="#b7b7b7"/><circle cx="433.5" cy="259.0" r="0.9" fill="#a2a2a2"/><circle cx="432.0" cy="265.1" r="1.5" fill="#afafaf"/><circle cx="429.9" cy="266.8" r="1.0" fill="#999999"/><circle cx="432.1" cy="268.3" r="1.1" fill="#b3b3b3"/><circle cx="435.5" cy="264.6" r="1.5" fill="#9b9b9b"/><circle cx="437.9" cy="259.7" r="0.9" fill="#bbbbbb"/><circle cx="431.3" cy="264.6" r="1.2" fill="#949494"/><circle cx="430.8" cy="267.1" r="0.8" fill="#b9b9b9"/><circle cx="436.6" cy="271.2" r="0.8" fill="#767676"/><circle cx="437.7" cy="265.0" r="0.9" fill="#b6b6b6"/><circle cx="428.3" cy="268.2" r="1.1" fill="#949494"/><circle cx="432.0" cy="269.3" r="0.8" fill="#b6b6b6"/><circle cx="432.9" cy="267.7" r="0.9" fill="#c0c0c0"/><circle cx="435.1" cy="257.2" r="1.4" fill="#c1c1c1"/><circle cx="436.7" cy="264.3" r="1.3" fill="#919191"/><circle cx="432.7" cy="263.9" r="1.2" fill="#959595"/><circle cx="429.9" cy="265.7" r="1.4" fill="#9a9a9a"/><circle cx="431.6" cy="266.7" r="1.2" fill="#bebebe"/><circle cx="439.9" cy="259.4" r="1.3" fill="#a0a0a0"/><circle cx="432.2" cy="269.8" r="0.8" fill="#a8a8a8"/><circle cx="428.8" cy="267.7" r="1.1" fill="#bdbdbd"/><circle cx="436.8" cy="261.9" r="0.7" fill="#d0d0d0"/><circle cx="428.9" cy="268.0" r="1.2" fill="#909090"/><circle cx="436.2" cy="264.5" r="1.2" fill="#a4a4a4"/><circle cx="442.2" cy="259.1" r="0.9" fill="#6c6c6c"/><circle cx="437.0" cy="259.6" r="0.7" fill="#d0d0d0"/><circle cx="435.5" cy="263.6" r="0.9" fill="#cecece"/><circle cx="438.5" cy="266.7" r="1.4" fill="#747474"/><circle cx="438.5" cy="260.6" r="1.2" fill="#c6c6c6"/><circle cx="432.7" cy="261.1" r="1.4" fill="#878787"/><circle cx="432.7" cy="264.1" r="0.9" fill="#979797"/><circle cx="426.2" cy="267.0" r="1.4" fill="#939393"/><circle cx="439.9" cy="261.8" r="1.3" fill="#a4a4a4"/><circle cx="435.6" cy="273.8" r="0.9" fill="#585858"/><circle cx="436.6" cy="259.8" r="0.7" fill="#a3a3a3"/><circle cx="429.2" cy="269.2" r="1.3" fill="#d3d3d3"/><circle cx="427.5" cy="264.5" r="0.8" fill="#999999"/><circle cx="432.9" cy="260.5" r="1.2" fill="#a9a9a9"/><circle cx="430.7" cy="270.4" r="0.7" fill="#a3a3a3"/><circle cx="440.8" cy="260.4" r="1.1" fill="#ababab"/><circle cx="432.5" cy="274.9" r="0.9" fill="#828282"/><circle cx="428.0" cy="270.8" r="0.9" fill="#c7c7c7"/><circle cx="432.7" cy="268.8" r="1.2" fill="#c9c9c9"/><circle cx="431.8" cy="269.7" r="1.3" fill="#b0b0b0"/><circle cx="428.0" cy="270.4" r="1.3" fill="#c6c6c6"/><circle cx="431.5" cy="259.8" r="1.3" fill="#767676"/><circle cx="435.3" cy="264.2" r="1.1" fill="#c1c1c1"/><circle cx="438.4" cy="260.1" r="1.0" fill="#bebebe"/><circle cx="427.5" cy="264.1" r="1.0" fill="#696969"/><circle cx="441.7" cy="262.0" r="1.5" fill="#6a6a6a"/><circle cx="429.1" cy="261.8" r="0.9" fill="#7d7d7d"/><circle cx="436.1" cy="265.4" r="1.2" fill="#b6b6b6"/><circle cx="428.2" cy="270.4" r="1.3" fill="#9e9e9e"/><circle cx="434.9" cy="261.1" r="1.0" fill="#a5a5a5"/><circle cx="435.7" cy="258.5" r="0.8" fill="#8b8b8b"/><circle cx="425.8" cy="268.0" r="1.3" fill="#888888"/><circle cx="432.9" cy="266.3" r="0.9" fill="#b2b2b2"/><circle cx="431.8" cy="271.8" r="1.1" fill="#848484"/><circle cx="430.7" cy="275.5" r="1.1" fill="#717171"/><circle cx="426.9" cy="270.2" r="1.1" fill="#b0b0b0"/><circle cx="439.0" cy="260.4" r="1.0" fill="#b7b7b7"/><circle cx="428.2" cy="270.9" r="0.9" fill="#a4a4a4"/><circle cx="431.3" cy="269.3" r="0.9" fill="#b2b2b2"/><circle cx="437.1" cy="264.5" r="0.8" fill="#969696"/><circle cx="435.5" cy="256.8" r="0.8" fill="#9e9e9e"/><circle cx="426.3" cy="268.6" r="1.0" fill="#ababab"/><circle cx="382.8" cy="258.5" r="1.1" fill="#aaaaaa"/><circle cx="387.0" cy="264.9" r="1.0" fill="#656565"/><circle cx="387.0" cy="263.8" r="0.9" fill="#818181"/><circle cx="382.9" cy="261.3" r="1.2" fill="#7c7c7c"/><circle cx="381.8" cy="251.1" r="1.3" fill="#515151"/><circle cx="380.8" cy="253.9" r="0.8" fill="#666666"/><circle cx="383.1" cy="258.8" r="1.0" fill="#898989"/><circle cx="386.7" cy="262.0" r="1.3" fill="#a4a4a4"/><circle cx="378.8" cy="261.3" r="1.0" fill="#757575"/><circle cx="379.4" cy="259.3" r="0.9" fill="#9f9f9f"/><circle cx="382.2" cy="260.6" r="0.9" fill="#707070"/><circle cx="380.3" cy="259.3" r="1.0" fill="#797979"/><circle cx="384.6" cy="268.7" r="1.1" fill="#5f5f5f"/><circle cx="379.1" cy="256.7" r="1.3" fill="#9b9b9b"/><circle cx="382.9" cy="255.3" r="1.0" fill="#575757"/><circle cx="385.2" cy="258.0" r="0.9" fill="#606060"/><circle cx="383.8" cy="260.8" r="1.3" fill="#acacac"/><circle cx="386.8" cy="257.8" r="1.3" fill="#5d5d5d"/><circle cx="380.3" cy="259.1" r="1.3" fill="#a1a1a1"/><circle cx="377.6" cy="257.9" r="1.2" fill="#808080"/><circle cx="381.0" cy="260.0" r="0.7" fill="#707070"/><circle cx="384.4" cy="267.9" r="1.2" fill="#707070"/><circle cx="385.9" cy="260.1" r="1.2" fill="#939393"/><circle cx="387.6" cy="256.7" r="1.4" fill="#585858"/><circle cx="386.3" cy="266.1" r="1.2" fill="#585858"/><circle cx="382.5" cy="259.9" r="0.9" fill="#818181"/><circle cx="377.5" cy="257.4" r="1.1" fill="#7e7e7e"/><circle cx="386.1" cy="258.9" r="1.1" fill="#727272"/><circle cx="385.0" cy="264.0" r="1.2" fill="#757575"/><circle cx="380.1" cy="258.5" r="1.2" fill="#696969"/><circle cx="389.1" cy="263.4" r="1.5" fill="#8d8d8d"/><circle cx="388.6" cy="264.0" r="0.9" fill="#969696"/><circle cx="373.5" cy="263.3" r="1.0" fill="#3a3a3a"/><circle cx="385.2" cy="250.9" r="1.4" fill="#676767"/><circle cx="386.3" cy="262.1" r="1.0" fill="#808080"/><circle cx="387.0" cy="265.0" r="1.3" fill="#979797"/><circle cx="388.3" cy="258.8" r="1.3" fill="#828282"/><circle cx="385.1" cy="261.2" r="1.3" fill="#7c7c7c"/><circle cx="388.0" cy="263.3" r="1.0" fill="#868686"/><circle cx="382.9" cy="258.6" r="1.3" fill="#787878"/><circle cx="380.0" cy="253.6" r="1.0" fill="#6b6b6b"/><circle cx="386.0" cy="262.0" r="1.5" fill="#707070"/><circle cx="382.9" cy="253.4" r="0.8" fill="#656565"/><circle cx="380.6" cy="260.7" r="0.9" fill="#686868"/><circle cx="387.5" cy="258.2" r="1.4" fill="#797979"/><circle cx="382.1" cy="256.1" r="0.9" fill="#6a6a6a"/><circle cx="383.6" cy="265.1" r="0.9" fill="#585858"/><circle cx="386.3" cy="256.5" r="0.9" fill="#7d7d7d"/><circle cx="386.1" cy="262.3" r="1.2" fill="#aaaaaa"/><circle cx="385.1" cy="259.7" r="0.9" fill="#a4a4a4"/><circle cx="377.5" cy="261.5" r="1.1" fill="#4c4c4c"/><circle cx="388.4" cy="259.2" r="0.9" fill="#666666"/><circle cx="387.0" cy="260.4" r="0.8" fill="#858585"/><circle cx="376.4" cy="259.8" r="0.9" fill="#636363"/><circle cx="377.8" cy="259.1" r="1.0" fill="#898989"/><circle cx="382.7" cy="260.8" r="1.3" fill="#6b6b6b"/><circle cx="384.7" cy="261.7" r="0.8" fill="#737373"/><circle cx="383.1" cy="257.3" r="0.8" fill="#7e7e7e"/><circle cx="381.0" cy="253.9" r="1.3" fill="#727272"/><circle cx="382.9" cy="257.5" r="1.5" fill="#787878"/><circle cx="388.4" cy="259.9" r="1.2" fill="#606060"/><circle cx="380.9" cy="259.9" r="1.1" fill="#7b7b7b"/><circle cx="383.0" cy="263.8" r="1.1" fill="#767676"/><circle cx="389.4" cy="263.0" r="1.5" fill="#a0a0a0"/><circle cx="384.5" cy="258.3" r="1.0" fill="#919191"/><path d="M418.5,288.0 L445.4,288.0 L445.4,311.9 L418.5,311.9Z" fill="#434343" /><circle cx="433.7" cy="303.6" r="0.9" fill="#636363"/><circle cx="432.6" cy="300.5" r="0.8" fill="#8d8d8d"/><circle cx="433.6" cy="300.5" r="0.8" fill="#656565"/><circle cx="434.9" cy="302.3" r="0.6" fill="#7a7a7a"/><circle cx="433.4" cy="301.8" r="0.9" fill="#646464"/><circle cx="437.4" cy="303.8" r="0.7" fill="#707070"/><circle cx="437.9" cy="302.8" r="0.6" fill="#828282"/><circle cx="436.6" cy="301.1" r="0.8" fill="#535353"/><circle cx="431.6" cy="301.0" r="0.8" fill="#7c7c7c"/><circle cx="433.1" cy="301.3" r="0.9" fill="#646464"/><circle cx="435.0" cy="304.1" r="1.0" fill="#727272"/><circle cx="433.0" cy="299.9" r="0.8" fill="#787878"/><circle cx="433.2" cy="306.4" r="0.8" fill="#4d4d4d"/><circle cx="435.3" cy="304.2" r="0.9" fill="#656565"/><circle cx="432.9" cy="306.0" r="0.9" fill="#616161"/></g><path d="M274.0,200.4 L353.8,200.4 L353.8,227.5 L408.4,227.5 L408.4,264.0 L399.0,261.8 L392.8,259.2 L386.5,254.9 L374.0,253.6 L274.0,253.6Z" fill="#ffefa5" /><path d="M274.0,253.0 L372.0,253.0 L372.0,290.0 L274.0,290.0Z" fill="#ffefa5" /><path d="M288.0,209.6 L289.0,206.6 L291.0,203.6 L295.0,201.6 L299.0,200.6 L304.0,200.1 L307.0,201.6 L307.0,206.1 L309.5,209.6 L309.9,211.6 L308.0,214.1 L304.0,216.1 L298.6,217.5 L293.5,217.1 L289.6,216.0 L288.0,213.1Z" fill="#ffffcc" /><path d="M274.0,193.0 L307.0,193.0 L307.0,200.5 L274.0,200.5Z" fill="#ffffcc" /><path d="M312.1,228.1 L340.2,247.2 L327.8,258.6 L312.1,258.6Z" fill="#febf5a" /><path d="M312.0,263.3 L331.0,262.3 L341.4,257.6 L351.8,255.5 L360.0,253.5 L372.0,252.2 L372.0,270.0 L312.0,270.0Z" fill="#ffffcc" /><path d="M274.0,232.5 L284.0,232.5 L288.0,233.5 L291.0,236.0 L295.0,241.0 L296.5,245.0 L296.5,262.0 L274.0,262.0Z" fill="#febf5a" /><path d="M296.2,244.9 L312.1,244.9 L312.1,256.8 L296.2,256.8Z" fill="#fd7034" /><path d="M297.8,256.8 L312.1,256.8 L312.1,261.4 L298.5,266.0 L297.8,266.0Z" fill="#fd9e43" /><path d="M286.0,259.5 L296.5,259.5 L297.8,265.5 L286.0,266.0Z" fill="#fd7034" /></g>
<rect x="487.5" y="298.59" width="9.40" height="20.01" fill="#ffefa5"/>
<rect x="487.5" y="278.88" width="9.40" height="20.01" fill="#fede80"/>
<rect x="487.5" y="259.17" width="9.40" height="20.01" fill="#febf5a"/>
<rect x="487.5" y="239.46" width="9.40" height="20.01" fill="#fd9e43"/>
<rect x="487.5" y="219.74" width="9.40" height="20.01" fill="#fd7034"/>
<rect x="487.5" y="200.03" width="9.40" height="20.01" fill="#f43d25"/>
<rect x="487.5" y="180.32" width="9.40" height="20.01" fill="#da141e"/>
<rect x="487.5" y="160.61" width="9.40" height="20.01" fill="#b60026"/>
<rect x="487.5" y="140.90" width="9.40" height="20.01" fill="#800026"/>
<path d="M487.5,318.2 L492.2,326.7 L496.9,318.2Z" fill="#ffffcc"/>
<path d="M487.5,140.9 L487.5,318.3 L492.2,326.7 L496.9,318.3 L496.9,140.9Z" fill="none" stroke="#1a1a1a" stroke-width="0.85"/>
<line x1="496.9" y1="318.30" x2="499.5" y2="318.30" stroke="#222" stroke-width="0.7"/>
<text x="502.4" y="320.85" class="tk">0</text>
<line x1="496.9" y1="298.59" x2="499.5" y2="298.59" stroke="#222" stroke-width="0.7"/>
<text x="502.4" y="301.14" class="tk">10</text>
<line x1="496.9" y1="278.88" x2="499.5" y2="278.88" stroke="#222" stroke-width="0.7"/>
<text x="502.4" y="281.43" class="tk">20</text>
<line x1="496.9" y1="259.17" x2="499.5" y2="259.17" stroke="#222" stroke-width="0.7"/>
<text x="502.4" y="261.72" class="tk">30</text>
<line x1="496.9" y1="239.46" x2="499.5" y2="239.46" stroke="#222" stroke-width="0.7"/>
<text x="502.4" y="242.01" class="tk">40</text>
<line x1="496.9" y1="219.74" x2="499.5" y2="219.74" stroke="#222" stroke-width="0.7"/>
<text x="502.4" y="222.29" class="tk">50</text>
<line x1="496.9" y1="200.03" x2="499.5" y2="200.03" stroke="#222" stroke-width="0.7"/>
<text x="502.4" y="202.58" class="tk">60</text>
<line x1="496.9" y1="180.32" x2="499.5" y2="180.32" stroke="#222" stroke-width="0.7"/>
<text x="502.4" y="182.87" class="tk">70</text>
<line x1="496.9" y1="160.61" x2="499.5" y2="160.61" stroke="#222" stroke-width="0.7"/>
<text x="502.4" y="163.16" class="tk">80</text>
<line x1="496.9" y1="140.90" x2="499.5" y2="140.90" stroke="#222" stroke-width="0.7"/>
<text x="502.4" y="143.45" class="tk">90</text>
<text class="al" transform="translate(518.4,233.8) rotate(-90)" text-anchor="middle">December curing minus October curing</text>
<!-- map 3 -->
<rect x="542.45" y="148.43" width="198.9" height="158.9" fill="none" stroke="#7f7f7f" stroke-width="1"/>
<g clip-path="url(#clip3)"><g filter="url(#f3)"><rect x="540" y="146" width="204" height="164" fill="#ffffff"/><path d="M674.0,163.0 L674.0,176.0 L675.0,183.0 L681.0,188.5 L690.0,197.0 L694.0,210.0 L693.0,223.0 L692.0,235.0 L690.0,246.0 L686.0,253.0 L676.0,253.0 L668.0,258.0 L663.0,262.0 L650.0,292.0 L650.0,312.0 L746.0,312.0 L746.0,144.0 L675.0,144.0Z" fill="#b2b2b2" /><path d="M676.2,164.0 L680.0,174.0 L686.0,182.0 L695.0,189.0 L704.0,198.0 L709.0,210.0 L712.0,223.0 L710.0,235.0 L707.0,246.0 L706.0,253.0 L703.5,260.0 L698.0,265.5 L689.0,268.5 L676.2,268.5 L666.0,265.0 L650.0,292.0 L650.0,312.0 L746.0,312.0 L746.0,144.0 L675.0,144.0Z" fill="#9f9f9f" /><path d="M676.5,158.0 L681.0,166.0 L689.0,170.0 L693.5,178.0 L697.5,186.0 L705.0,194.0 L713.0,203.0 L717.5,210.0 L717.0,223.0 L714.0,235.0 L711.0,246.0 L708.0,254.0 L705.0,261.0 L699.5,266.5 L689.6,269.0 L676.0,269.0 L667.0,267.0 L650.0,292.0 L650.0,312.0 L746.0,312.0 L746.0,144.0 L675.0,144.0Z" fill="#818181" /><path d="M723.5,213.0 L721.0,223.0 L717.5,235.0 L714.0,246.0 L710.5,255.0 L707.0,262.5 L701.0,268.0 L690.0,270.0 L676.0,270.0 L668.0,268.5 L660.0,292.0 L650.0,312.0 L746.0,312.0 L746.0,213.0Z" fill="#6a6a6a" /><path d="M727.0,216.0 L724.0,223.0 L720.0,235.0 L716.5,246.0 L712.5,255.5 L708.5,263.5 L702.0,269.5 L690.0,271.0 L676.0,271.0 L668.5,270.0 L660.0,292.0 L650.0,312.0 L746.0,312.0 L746.0,216.0Z" fill="#525252" /><path d="M729.0,219.0 L726.5,224.0 L722.5,235.0 L718.5,246.0 L714.5,256.0 L710.0,264.5 L703.0,271.0 L690.0,272.3 L676.0,272.3 L669.0,271.5 L660.0,292.0 L650.0,312.0 L746.0,312.0 L746.0,219.0Z" fill="#373737" /><path d="M674.0,145.0 L690.0,145.0 L690.0,163.0 L674.0,163.0Z" fill="#767676" /><path d="M684.0,157.0 L687.0,167.0 L693.0,171.0 L696.0,181.0 L699.0,189.0 L710.0,196.0 L719.0,207.0 L729.0,217.0" fill="none" stroke="#727272" stroke-width="2.4" stroke-linejoin="round" stroke-linecap="round" /><ellipse cx="682.0" cy="258.0" rx="8" ry="3.2" fill="#858585" /><path d="M685.0,282.0 L712.0,282.0 L712.0,306.0 L685.0,306.0Z" fill="#232323" /><ellipse cx="701.0" cy="295.5" rx="4" ry="3.2" fill="#4b4b4b" /><ellipse cx="699.5" cy="295.0" rx="1.6" ry="1.6" fill="#6c6c6c" /><path d="M646.0,255.0 L652.0,252.0 L660.0,253.0 L665.0,258.0 L668.0,266.0 L664.0,270.0 L650.0,270.0Z" fill="#999999" /><path d="M648.0,259.0 L652.0,258.0 L660.0,260.0 L664.0,265.0 L664.0,270.0 L650.0,270.0Z" fill="#7a7a7a" /></g><path d="M620.3,150.0 L620.3,184.0 L624.0,186.0 L628.0,185.5 L633.8,185.0 L636.5,195.0 L638.8,205.0 L636.2,212.5 L630.0,218.0 L631.0,221.9 L661.0,221.9 L661.0,150.0Z" fill="#b60026" /><path d="M545.0,200.0 L552.0,202.0 L553.5,208.4 L552.5,218.7 L553.5,229.0 L555.6,234.2 L560.8,237.3 L563.8,237.3 L563.0,243.3 L562.3,247.8 L565.3,251.6 L567.6,253.8 L575.0,254.6 L580.4,252.3 L594.0,252.3 L597.7,254.6 L600.0,262.0 L550.0,268.0 L545.0,240.0Z" fill="#b60026" /><path d="M555.0,238.8 L562.3,238.8 L562.3,246.3 L558.6,246.3 L557.0,243.0Z" fill="#da141e" /><path d="M580.4,252.7 L594.0,252.7 L597.0,255.0 L598.0,258.0 L582.0,258.0 L576.0,256.5 L568.3,256.9 L568.3,254.8 L575.0,255.3Z" fill="#da141e" /><path d="M557.5,246.3 L562.3,246.3 L562.3,251.6 L563.8,251.6 L568.3,254.0 L568.3,256.9 L563.8,256.9 L561.6,254.6 L550.0,254.6 L550.0,246.3Z" fill="#f43d25" /><path d="M550.0,254.6 L561.6,254.6 L563.8,256.9 L569.8,256.9 L569.8,260.6 L565.3,260.6 L561.6,259.0 L550.0,259.0Z" fill="#fd9e43" /><path d="M582.6,257.2 L596.5,257.2 L596.5,262.0 L582.6,262.0Z" fill="#fd9e43" /><path d="M550.0,258.6 L561.6,258.6 L565.0,260.6 L569.8,260.6 L569.8,258.4 L580.0,258.4 L580.0,266.0 L550.0,266.0Z" fill="#fede80" /><path d="M552.0,260.6 L560.0,260.6 L563.0,263.0 L563.0,266.0 L552.0,266.0Z" fill="#ffefa5" /><path d="M634.0,150.0 L634.0,170.0 L640.0,172.0 L650.0,171.0 L660.0,170.0 L660.0,150.0Z" fill="#da141e" /><circle cx="645.5" cy="163.6" r="3.4" fill="#b60026"/><ellipse cx="631" cy="177.5" rx="4" ry="6.3" fill="#800026"/><path d="M622.0,152.0 L633.5,152.0 L633.5,157.6 L622.0,157.6Z" fill="#da141e" /><ellipse cx="667.1" cy="178.4" rx="1.6" ry="1.2" fill="#da141e" /></g>
<rect x="753.8" y="301.64" width="8.70" height="20.06" fill="#ffffcc"/>
<rect x="753.8" y="281.89" width="8.70" height="20.06" fill="#ffefa5"/>
<rect x="753.8" y="262.13" width="8.70" height="20.06" fill="#fede80"/>
<rect x="753.8" y="242.38" width="8.70" height="20.06" fill="#febf5a"/>
<rect x="753.8" y="222.62" width="8.70" height="20.06" fill="#fd9e43"/>
<rect x="753.8" y="202.87" width="8.70" height="20.06" fill="#fd7034"/>
<rect x="753.8" y="183.11" width="8.70" height="20.06" fill="#f43d25"/>
<rect x="753.8" y="163.36" width="8.70" height="20.06" fill="#da141e"/>
<rect x="753.8" y="143.60" width="8.70" height="20.06" fill="#b60026"/>
<path d="M753.8,143.7 L758.15,134.2 L762.5,143.7Z" fill="#800026"/>
<path d="M753.8,321.4 L753.8,143.6 L758.15,134.2 L762.5,143.6 L762.5,321.4Z" fill="none" stroke="#1a1a1a" stroke-width="0.85"/>
<line x1="762.5" y1="321.40" x2="765.1" y2="321.40" stroke="#222" stroke-width="0.7"/>
<text x="768.0" y="323.95" class="tk">0</text>
<line x1="762.5" y1="301.64" x2="765.1" y2="301.64" stroke="#222" stroke-width="0.7"/>
<text x="768.0" y="304.19" class="tk">10</text>
<line x1="762.5" y1="281.89" x2="765.1" y2="281.89" stroke="#222" stroke-width="0.7"/>
<text x="768.0" y="284.44" class="tk">20</text>
<line x1="762.5" y1="262.13" x2="765.1" y2="262.13" stroke="#222" stroke-width="0.7"/>
<text x="768.0" y="264.68" class="tk">30</text>
<line x1="762.5" y1="242.38" x2="765.1" y2="242.38" stroke="#222" stroke-width="0.7"/>
<text x="768.0" y="244.93" class="tk">40</text>
<line x1="762.5" y1="222.62" x2="765.1" y2="222.62" stroke="#222" stroke-width="0.7"/>
<text x="768.0" y="225.17" class="tk">50</text>
<line x1="762.5" y1="202.87" x2="765.1" y2="202.87" stroke="#222" stroke-width="0.7"/>
<text x="768.0" y="205.42" class="tk">60</text>
<line x1="762.5" y1="183.11" x2="765.1" y2="183.11" stroke="#222" stroke-width="0.7"/>
<text x="768.0" y="185.66" class="tk">70</text>
<line x1="762.5" y1="163.36" x2="765.1" y2="163.36" stroke="#222" stroke-width="0.7"/>
<text x="768.0" y="165.91" class="tk">80</text>
<line x1="762.5" y1="143.60" x2="765.1" y2="143.60" stroke="#222" stroke-width="0.7"/>
<text x="768.0" y="146.15" class="tk">90</text>
<text class="al" transform="translate(784,227.8) rotate(-90)" text-anchor="middle">December curing</text>
<!-- ellipses -->
<ellipse cx="40.75" cy="258.5" rx="8.0" ry="17.3" fill="none" stroke="#3563a6" stroke-width="1.7"/>
<ellipse cx="304.9" cy="257.05" rx="8.05" ry="17.2" fill="none" stroke="#3563a6" stroke-width="1.7"/>
<ellipse cx="570.95" cy="254.5" rx="8.1" ry="17.35" fill="none" stroke="#3563a6" stroke-width="1.7"/>
</svg>
</body>
</html>
